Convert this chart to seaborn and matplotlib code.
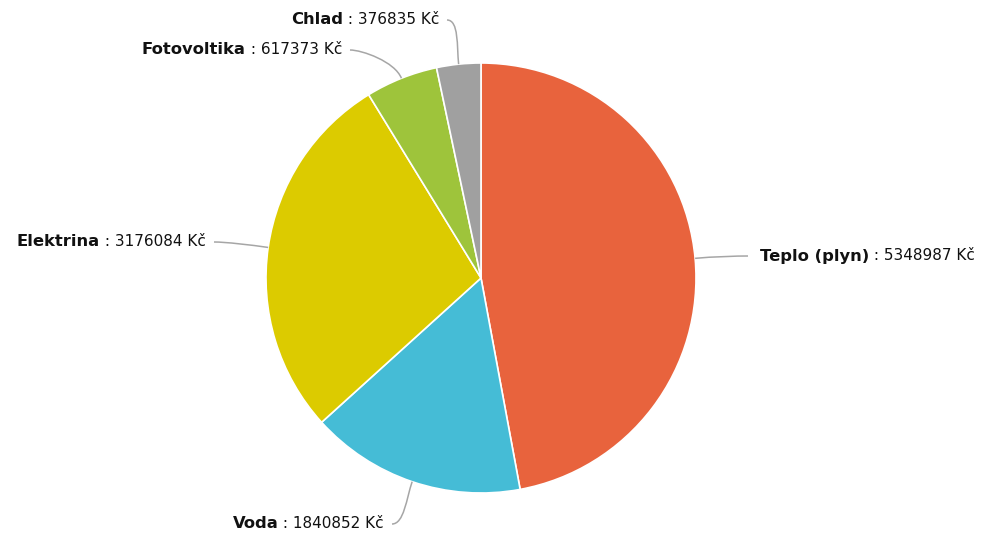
"""
Pie chart of energy costs (Kč) with Highcharts-like labels.
"""

import numpy as np
import matplotlib
matplotlib.use("Agg")
import matplotlib.pyplot as plt
from matplotlib.path import Path
from matplotlib.patches import PathPatch
import seaborn as sns

# data
kategorie = ["Teplo (plyn)", "Voda", "Elektrina", "Fotovoltika", "Chlad"]
hodnoty = [5348987, 1840852, 3176084, 617373, 376835]
barvy = ["#E8633D", "#45BCD6", "#DCCB00", "#9EC43B", "#A0A0A0"]

# label anchor (end of connector) in pixel coords, and side
kotvy = [(748, 256, "right"), (392, 524, "left"), (214, 242, "left"),
         (350, 50, "left"), (447, 20, "left")]

W, H = 1000, 549
stred = (481, H - 278)
polomer = 215

sns.set_style("white")
plt.rcParams["font.family"] = ["DejaVu Sans"]

fig = plt.figure(figsize=(W / 100, H / 100), dpi=100)
ax = fig.add_axes([0, 0, 1, 1])

wedges, _ = ax.pie(hodnoty, colors=barvy, startangle=90, counterclock=False,
                   center=stred, radius=polomer, frame=True,
                   wedgeprops=dict(edgecolor="white", linewidth=1.2))
ax.set_xlim(0, W)
ax.set_ylim(0, H)
ax.axis("off")

fs_tucne = 11.8
fs = 11.0
for w, nazev, hodnota, (kx, ky, strana) in zip(wedges, kategorie, hodnoty, kotvy):
    ky = H - ky
    uhel = np.deg2rad((w.theta1 + w.theta2) / 2)
    ux, uy = np.cos(uhel), np.sin(uhel)
    p0 = (stred[0] + polomer * ux, stred[1] + polomer * uy)
    p1 = (p0[0] + 18 * ux, p0[1] + 18 * uy)
    dx = 12 if strana == "left" else -12
    p2 = (kx + dx, ky)
    cesta = Path([p0, p1, p2, (kx, ky)],
                 [Path.MOVETO, Path.CURVE4, Path.CURVE4, Path.CURVE4])
    ax.add_patch(PathPatch(cesta, fc="none", ec="#A6A6A6", lw=1.1))

    zbytek = f" : {hodnota} Kč"
    if strana == "right":
        t = ax.text(kx + 12, ky, nazev, fontsize=fs_tucne, fontweight="bold",
                    ha="left", va="center", color="#111111")
        ax.annotate(zbytek, xy=(1, 0.5), xycoords=t, fontsize=fs,
                    ha="left", va="center", color="#111111")
    else:
        t = ax.text(kx - 8, ky, zbytek, fontsize=fs,
                    ha="right", va="center", color="#111111")
        ax.annotate(nazev, xy=(0, 0.5), xycoords=t, fontsize=fs_tucne,
                    fontweight="bold", ha="right", va="center", color="#111111")

fig.savefig("out.png", dpi=100)
